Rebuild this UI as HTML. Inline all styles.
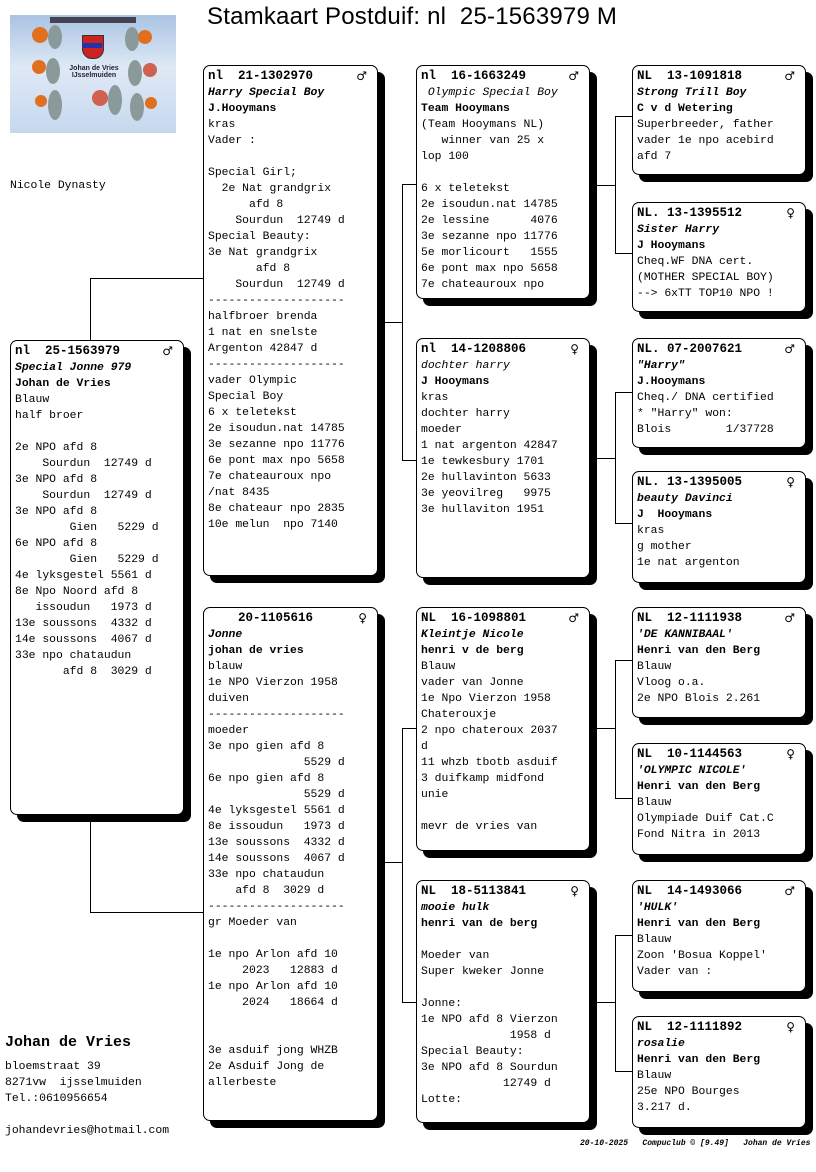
<!DOCTYPE html>
<html><head><meta charset="utf-8">
<style>
body{margin:0;width:816px;height:1172px;background:#fff;position:relative;overflow:hidden;font-family:"Liberation Mono","DejaVu Sans Mono",monospace;color:#000}
.b{position:absolute;border:1px solid #000;border-radius:7px;background:#fff;box-shadow:7px 7px 0 #000;box-sizing:border-box;padding:2px 0 0 4px;font-size:11.4px;line-height:16px;white-space:pre;overflow:hidden}
.b .h{font-weight:bold;font-size:12.5px}
.b .n{font-style:italic;font-weight:bold}
.b .o{font-weight:bold}
.s{position:absolute;right:10px;top:2px;font-size:12px;font-family:"DejaVu Sans",sans-serif;font-weight:bold}
.l{position:absolute;background:#000}
.t{position:absolute;white-space:pre;font-size:11.4px;line-height:16px}
</style></head><body>
<div style="position:absolute;left:10px;top:15px;width:166px;height:118px;background:linear-gradient(180deg,#a9c3e3 0%,#dfe9f5 45%,#c6d8ee 100%)">
 <div style="position:absolute;left:40px;top:2px;width:86px;height:6px;background:#445"></div>
 <div style="position:absolute;left:72px;top:20px;width:20px;height:22px;background:#c22;border:1px solid #333;border-radius:0 0 10px 10px"></div>
 <div style="position:absolute;left:72px;top:28px;width:20px;height:5px;background:#23a"></div>
 <div style="position:absolute;left:58px;top:50px;width:52px;height:14px;font:bold 7px 'Liberation Sans',sans-serif;color:#223;text-align:center;line-height:7px">Johan de Vries<br>IJsselmuiden</div>
 <div style="position:absolute;left:22px;top:12px;width:16px;height:16px;border-radius:50%;background:#e07020"></div>
 <div style="position:absolute;left:38px;top:10px;width:14px;height:24px;border-radius:50%;background:#8a9a9a"></div>
 <div style="position:absolute;left:115px;top:12px;width:14px;height:24px;border-radius:50%;background:#8a9a9a"></div>
 <div style="position:absolute;left:128px;top:15px;width:14px;height:14px;border-radius:50%;background:#e07020"></div>
 <div style="position:absolute;left:22px;top:45px;width:14px;height:14px;border-radius:50%;background:#e07020"></div>
 <div style="position:absolute;left:36px;top:43px;width:14px;height:26px;border-radius:50%;background:#8a9a9a"></div>
 <div style="position:absolute;left:133px;top:48px;width:14px;height:14px;border-radius:50%;background:#d06050"></div>
 <div style="position:absolute;left:118px;top:45px;width:14px;height:26px;border-radius:50%;background:#8a9a9a"></div>
 <div style="position:absolute;left:25px;top:80px;width:12px;height:12px;border-radius:50%;background:#e07020"></div>
 <div style="position:absolute;left:38px;top:75px;width:14px;height:30px;border-radius:50%;background:#8a9a9a"></div>
 <div style="position:absolute;left:82px;top:75px;width:16px;height:16px;border-radius:50%;background:#d06050"></div>
 <div style="position:absolute;left:98px;top:70px;width:14px;height:30px;border-radius:50%;background:#8a9a9a"></div>
 <div style="position:absolute;left:120px;top:78px;width:14px;height:28px;border-radius:50%;background:#8a9a9a"></div>
 <div style="position:absolute;left:135px;top:82px;width:12px;height:12px;border-radius:50%;background:#e07020"></div>
</div>
<div style="position:absolute;left:207px;top:3px;font:24px 'Liberation Sans',sans-serif;white-space:pre;letter-spacing:0.2px">Stamkaart Postduif: nl  25-1563979 M</div>
<div class="t" style="left:10px;top:178px">Nicole Dynasty</div>

<!-- connectors -->
<div class="l" style="left:90px;top:278px;width:1px;height:62px"></div>
<div class="l" style="left:90px;top:278px;width:113px;height:1px"></div>
<div class="l" style="left:90px;top:820px;width:1px;height:92px"></div>
<div class="l" style="left:90px;top:912px;width:113px;height:1px"></div>

<div class="l" style="left:384px;top:322px;width:18px;height:1px"></div>
<div class="l" style="left:402px;top:184px;width:1px;height:276px"></div>
<div class="l" style="left:402px;top:184px;width:14px;height:1px"></div>
<div class="l" style="left:402px;top:460px;width:14px;height:1px"></div>
<div class="l" style="left:384px;top:862px;width:18px;height:1px"></div>
<div class="l" style="left:402px;top:728px;width:1px;height:274px"></div>
<div class="l" style="left:402px;top:728px;width:14px;height:1px"></div>
<div class="l" style="left:402px;top:1002px;width:14px;height:1px"></div>

<div class="l" style="left:597px;top:185px;width:18px;height:1px"></div>
<div class="l" style="left:615px;top:116px;width:1px;height:137px"></div>
<div class="l" style="left:615px;top:116px;width:17px;height:1px"></div>
<div class="l" style="left:615px;top:253px;width:17px;height:1px"></div>
<div class="l" style="left:597px;top:458px;width:18px;height:1px"></div>
<div class="l" style="left:615px;top:392px;width:1px;height:131px"></div>
<div class="l" style="left:615px;top:392px;width:17px;height:1px"></div>
<div class="l" style="left:615px;top:523px;width:17px;height:1px"></div>
<div class="l" style="left:597px;top:728px;width:18px;height:1px"></div>
<div class="l" style="left:615px;top:660px;width:1px;height:138px"></div>
<div class="l" style="left:615px;top:660px;width:17px;height:1px"></div>
<div class="l" style="left:615px;top:798px;width:17px;height:1px"></div>
<div class="l" style="left:597px;top:1002px;width:18px;height:1px"></div>
<div class="l" style="left:615px;top:935px;width:1px;height:136px"></div>
<div class="l" style="left:615px;top:935px;width:17px;height:1px"></div>
<div class="l" style="left:615px;top:1071px;width:17px;height:1px"></div>

<!-- col1 -->
<div class="b" style="left:10px;top:340px;width:174px;height:475px"><span class="s">♂</span><span class="h">nl  25-1563979</span>
<span class="n">Special Jonne 979</span>
<span class="o">Johan de Vries</span>
Blauw
half broer

2e NPO afd 8
    Sourdun  12749 d
3e NPO afd 8
    Sourdun  12749 d
3e NPO afd 8
        Gien   5229 d
6e NPO afd 8
        Gien   5229 d
4e lyksgestel 5561 d
8e Npo Noord afd 8
   issoudun   1973 d
13e soussons  4332 d
14e soussons  4067 d
33e npo chataudun
       afd 8  3029 d</div>

<!-- col2 -->
<div class="b" style="left:203px;top:65px;width:175px;height:511px"><span class="s">♂</span><span class="h">nl  21-1302970</span>
<span class="n">Harry Special Boy</span>
<span class="o">J.Hooymans</span>
kras
Vader :

Special Girl;
  2e Nat grandgrix
      afd 8
    Sourdun  12749 d
Special Beauty:
3e Nat grandgrix
       afd 8
    Sourdun  12749 d
--------------------
halfbroer brenda
1 nat en snelste
Argenton 42847 d
--------------------
vader Olympic
Special Boy
6 x teletekst
2e isoudun.nat 14785
3e sezanne npo 11776
6e pont max npo 5658
7e chateauroux npo
/nat 8435
8e chateaur npo 2835
10e melun  npo 7140</div>

<div class="b" style="left:203px;top:607px;width:175px;height:514px"><span class="s">♀</span><span class="h">    20-1105616</span>
<span class="n">Jonne</span>
<span class="o">johan de vries</span>
blauw
1e NPO Vierzon 1958
duiven
--------------------
moeder
3e npo gien afd 8
              5529 d
6e npo gien afd 8
              5529 d
4e lyksgestel 5561 d
8e issoudun   1973 d
13e soussons  4332 d
14e soussons  4067 d
33e npo chataudun
    afd 8  3029 d
--------------------
gr Moeder van

1e npo Arlon afd 10
     2023   12883 d
1e npo Arlon afd 10
     2024   18664 d


3e asduif jong WHZB
2e Asduif Jong de
allerbeste</div>

<!-- col3 -->
<div class="b" style="left:416px;top:65px;width:174px;height:234px"><span class="s">♂</span><span class="h">nl  16-1663249</span>
<span class="n" style="font-weight:normal"> Olympic Special Boy</span>
<span class="o">Team Hooymans</span>
(Team Hooymans NL)
   winner van 25 x
lop 100

6 x teletekst
2e isoudun.nat 14785
2e lessine      4076
3e sezanne npo 11776
5e morlicourt   1555
6e pont max npo 5658
7e chateauroux npo</div>

<div class="b" style="left:416px;top:338px;width:174px;height:240px"><span class="s">♀</span><span class="h">nl  14-1208806</span>
<span class="n" style="font-weight:normal">dochter harry</span>
<span class="o">J Hooymans</span>
kras
dochter harry
moeder
1 nat argenton 42847
1e tewkesbury 1701
2e hullavinton 5633
3e yeovilreg   9975
3e hullaviton 1951</div>

<div class="b" style="left:416px;top:607px;width:174px;height:244px"><span class="s">♂</span><span class="h">NL  16-1098801</span>
<span class="n">Kleintje Nicole</span>
<span class="o">henri v de berg</span>
Blauw
vader van Jonne
1e Npo Vierzon 1958
Chaterouxje
2 npo chateroux 2037
d
11 whzb tbotb asduif
3 duifkamp midfond
unie

mevr de vries van</div>

<div class="b" style="left:416px;top:880px;width:174px;height:243px"><span class="s">♀</span><span class="h">NL  18-5113841</span>
<span class="n">mooie hulk</span>
<span class="o">henri van de berg</span>

Moeder van
Super kweker Jonne

Jonne:
1e NPO afd 8 Vierzon
             1958 d
Special Beauty:
3e NPO afd 8 Sourdun
            12749 d
Lotte:</div>

<!-- col4 -->
<div class="b" style="left:632px;top:65px;width:174px;height:110px"><span class="s">♂</span><span class="h">NL  13-1091818</span>
<span class="n">Strong Trill Boy</span>
<span class="o">C v d Wetering</span>
Superbreeder, father
vader 1e npo acebird
afd 7</div>
<div class="b" style="left:632px;top:202px;width:174px;height:110px"><span class="s">♀</span><span class="h">NL. 13-1395512</span>
<span class="n">Sister Harry</span>
<span class="o">J Hooymans</span>
Cheq.WF DNA cert.
(MOTHER SPECIAL BOY)
--> 6xTT TOP10 NPO !</div>
<div class="b" style="left:632px;top:338px;width:174px;height:110px"><span class="s">♂</span><span class="h">NL. 07-2007621</span>
<span class="n">"Harry"</span>
<span class="o">J.Hooymans</span>
Cheq./ DNA certified
* "Harry" won:
Blois        1/37728</div>
<div class="b" style="left:632px;top:471px;width:174px;height:112px"><span class="s">♀</span><span class="h">NL. 13-1395005</span>
<span class="n">beauty Davinci</span>
<span class="o">J  Hooymans</span>
kras
g mother
1e nat argenton</div>
<div class="b" style="left:632px;top:607px;width:174px;height:111px"><span class="s">♂</span><span class="h">NL  12-1111938</span>
<span class="n">'DE KANNIBAAL'</span>
<span class="o">Henri van den Berg</span>
Blauw
Vloog o.a.
2e NPO Blois 2.261</div>
<div class="b" style="left:632px;top:743px;width:174px;height:112px"><span class="s">♀</span><span class="h">NL  10-1144563</span>
<span class="n">'OLYMPIC NICOLE'</span>
<span class="o">Henri van den Berg</span>
Blauw
Olympiade Duif Cat.C
Fond Nitra in 2013</div>
<div class="b" style="left:632px;top:880px;width:174px;height:112px"><span class="s">♂</span><span class="h">NL  14-1493066</span>
<span class="n">'HULK'</span>
<span class="o">Henri van den Berg</span>
Blauw
Zoon 'Bosua Koppel'
Vader van :</div>
<div class="b" style="left:632px;top:1016px;width:174px;height:112px"><span class="s">♀</span><span class="h">NL  12-1111892</span>
<span class="n">rosalie</span>
<span class="o">Henri van den Berg</span>
Blauw
25e NPO Bourges
3.217 d.</div>

<!-- footer -->
<div class="t" style="left:5px;top:1033px;font-size:15px;font-weight:bold;line-height:20px">Johan de Vries</div>
<div class="t" style="left:5px;top:1059px">bloemstraat 39
8271vw  ijsselmuiden
Tel.:0610956654

johandevries@hotmail.com</div>
<div class="t" style="left:580px;top:1138px;font-size:8px;font-style:italic;font-weight:bold;line-height:12px">20-10-2025   Compuclub © [9.49]   Johan de Vries</div>
</body></html>
